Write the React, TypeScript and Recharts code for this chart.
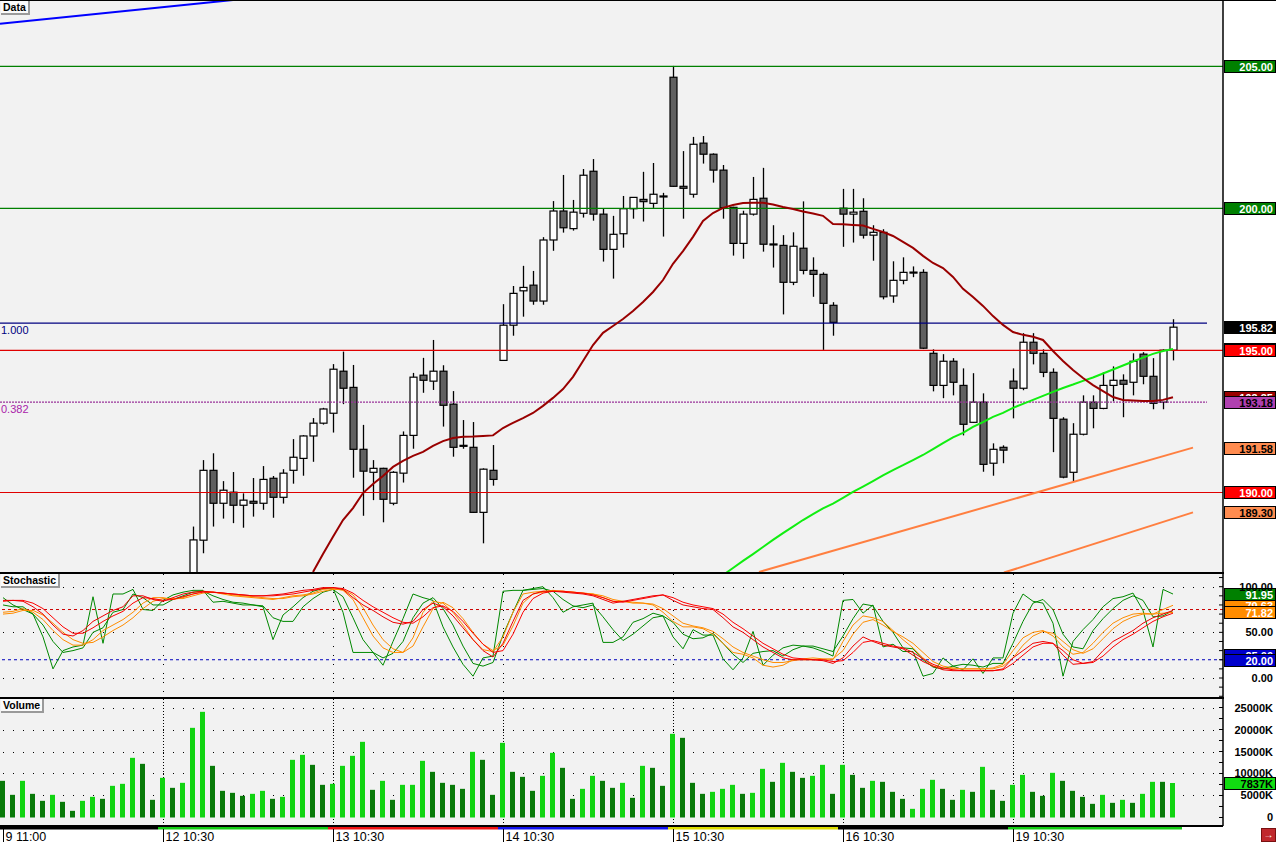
import React from "react";
import { ComposedChart, Bar, Line, XAxis, YAxis, CartesianGrid, ReferenceLine, Cell } from "recharts";

const FONT = "'Liberation Sans', Arial, sans-serif";

// ---- data ----
const DAY_LABELS = ["9 11:00", "12 10:30", "13 10:30", "14 10:30", "15 10:30", "16 10:30", "19 10:30"];
const DAY_START = [0, 16, 33, 50, 67, 84, 101];
const DAY_STRIP = ["#000000", "#11cc11", "#ee1111", "#1111ee", "#dddd00", "#000000", "#11cc11"];

const FIRST_CANDLE = 19;
const OPEN = [
  186.9, 188.32, 190.78, 189.62, 190.01, 189.55, 189.69, 189.62, 190.5, 189.83,
  190.78, 191.2, 191.99, 192.44, 192.79, 194.27, 193.7, 191.52, 190.71, 190.85,
  189.62, 190.68, 192.01, 194.13, 193.92, 194.27, 193.11, 191.66, 191.59, 189.3,
  190.78, 194.65, 195.89, 197.1, 197.3, 196.74, 198.89, 199.91, 199.29, 199.83,
  201.31, 199.8, 198.56, 199.11, 199.99, 200.32, 200.18, 200.44, 204.62, 200.78,
  200.5, 202.3, 201.91, 201.35, 200.04, 198.77, 199.8, 200.36, 198.75, 198.7,
  197.4, 198.6, 197.82, 197.68, 196.59, 200.01, 199.8, 199.9, 199.06, 199.16,
  196.92, 197.47, 197.76, 197.75, 194.9, 193.77, 194.62, 193.77, 192.47, 193.18,
  191.03, 191.59, 193.92, 193.67, 195.29, 194.9, 194.23, 192.58, 190.71, 192.05,
  193.18, 192.96, 193.77, 193.95, 193.88, 194.87, 194.09, 193.18, 195.01,
];
const HIGH = [
  188.8, 191.14, 191.38, 190.4, 190.72, 189.97, 190.51, 190.93, 190.58, 190.82,
  191.88, 192.02, 192.62, 192.98, 194.52, 194.96, 194.49, 192.38, 191.14, 190.87,
  190.75, 192.15, 194.21, 194.74, 195.37, 194.48, 193.57, 192.55, 192.48, 190.85,
  191.67, 196.63, 197.27, 197.98, 197.8, 198.99, 200.26, 201.18, 200.3, 201.39,
  201.74, 199.99, 199.74, 200.44, 200.4, 201.29, 201.6, 200.55, 205.02, 202.02,
  202.52, 202.55, 201.94, 201.53, 200.06, 199.92, 201.11, 201.43, 199.41, 199.06,
  199.16, 200.25, 198.28, 197.75, 196.7, 200.69, 200.69, 200.36, 199.41, 199.27,
  198.14, 198.28, 197.96, 197.86, 195.04, 194.87, 194.73, 194.37, 194.2, 193.49,
  191.73, 191.66, 194.37, 195.61, 195.61, 195.04, 194.37, 192.65, 192.44, 193.42,
  193.42, 194.23, 194.44, 194.16, 194.9, 194.94, 194.73, 195.04, 196.1,
];
const LOW = [
  186.6, 187.86, 188.8, 189.08, 188.92, 188.76, 189.15, 189.39, 189.11, 189.61,
  190.31, 190.59, 191.08, 192.39, 192.11, 193.11, 190.52, 189.18, 189.73, 188.95,
  189.55, 190.35, 191.54, 193.51, 193.61, 192.32, 191.26, 191.54, 189.28, 188.21,
  190.24, 194.63, 195.52, 196.19, 196.61, 196.61, 198.51, 199.15, 199.22, 199.68,
  199.57, 198.13, 197.53, 198.62, 199.64, 199.54, 200.02, 199.01, 200.76, 199.64,
  200.38, 201.58, 200.91, 199.64, 198.34, 198.23, 199.75, 198.48, 197.92, 196.27,
  197.3, 197.68, 196.89, 195.02, 195.52, 198.65, 198.8, 198.94, 198.16, 196.8,
  196.68, 197.33, 197.58, 195.05, 193.56, 193.32, 193.42, 192.01, 192.45, 190.73,
  190.59, 191.03, 192.61, 193.6, 194.51, 194.06, 191.42, 190.5, 190.39, 192.01,
  192.26, 192.93, 193.21, 192.65, 193.42, 193.81, 192.93, 192.93, 194.65,
];
const CLOSE = [
  188.33, 190.78, 189.62, 190.08, 189.55, 189.73, 189.62, 190.46, 189.83, 190.68,
  191.24, 191.99, 192.44, 192.94, 194.34, 193.67, 191.52, 190.75, 190.85, 189.76,
  190.71, 192.01, 194.06, 193.95, 194.27, 193.07, 191.59, 191.64, 189.3, 190.82,
  190.46, 195.89, 197.01, 197.22, 196.74, 198.89, 199.91, 199.32, 199.87, 201.17,
  199.8, 198.56, 199.09, 199.99, 200.39, 200.24, 200.5, 200.42, 200.78, 200.71,
  202.26, 201.91, 201.35, 200.03, 198.77, 199.8, 200.32, 198.74, 198.73, 197.4,
  198.67, 197.82, 197.68, 196.66, 195.99, 199.8, 199.87, 199.06, 199.16, 196.89,
  197.47, 197.75, 197.74, 195.08, 193.77, 194.62, 193.88, 192.4, 193.18, 190.99,
  191.52, 191.49, 193.67, 195.29, 194.9, 194.23, 192.61, 190.54, 192.05, 193.18,
  192.96, 193.77, 193.95, 193.81, 194.62, 194.09, 193.14, 195.01, 195.82,
];

const MA_RED_START = 31;
const MA_RED = [
  187.2, 187.83, 188.44, 189.03, 189.45, 189.98, 190.3, 190.58, 190.9, 191.11,
  191.29, 191.43, 191.64, 191.81, 191.92, 191.96, 191.97, 191.99, 192.01, 192.27,
  192.45, 192.62, 192.8, 193.05, 193.33, 193.64, 194.07, 194.63, 195.19, 195.62,
  195.86, 196.11, 196.39, 196.71, 197.06, 197.48, 198.05, 198.5, 199.0, 199.56,
  199.84, 200.02, 200.12, 200.19, 200.2, 200.2, 200.14, 200.05, 199.98, 199.89,
  199.82, 199.74, 199.45, 199.44, 199.42, 199.4, 199.28, 199.17, 199.03, 198.82,
  198.61, 198.33, 198.08, 197.9, 197.59, 197.17, 196.88, 196.57, 196.21, 195.9,
  195.65, 195.55, 195.48, 195.37, 194.98, 194.63, 194.31, 194.03, 193.78, 193.57,
  193.36, 193.26, 193.24, 193.22, 193.22, 193.26, 193.35,
];
const MA_GREEN_START = 72;
const MA_GREEN = [
  187.09, 187.34, 187.59, 187.83, 188.08, 188.33, 188.57, 188.8, 189.03, 189.24,
  189.44, 189.61, 189.81, 190.02, 190.21, 190.4, 190.6, 190.79, 190.96, 191.14,
  191.32, 191.53, 191.74, 191.94, 192.1, 192.31, 192.48, 192.66, 192.8, 192.98,
  193.12, 193.26, 193.4, 193.54, 193.68, 193.8, 193.93, 194.05, 194.19, 194.33,
  194.47, 194.61, 194.75, 194.88, 194.98, 195.05,
];

const LEVELS_GREEN = [205, 200];
const LEVELS_RED = [195, 190];
const FIB_100 = 195.96;
const FIB_382 = 193.18;
const FIB_END_X = 120.4;
const BLUE_TREND = [{ x: -0.3, y: 206.5 }, { x: 23.0, y: 207.34 }];
const ORANGE_UPPER = [{ x: 75.6, y: 187.2 }, { x: 119.0, y: 191.58 }];
const ORANGE_LOWER = [{ x: 100.1, y: 187.18 }, { x: 119.0, y: 189.3 }];

const STO_FAST = [
  88, 80, 75, 70, 45, 10, 30, 34, 36, 89, 38, 92, 92, 97, 75, 74, 85, 91, 94, 96,
  96, 83, 84, 82, 80, 80, 78, 42, 69, 78, 88, 95, 98, 98, 72, 28, 28, 28, 14, 40,
  65, 92, 88, 85, 56, 34, 15, 2, 22, 24, 95, 96, 96, 98, 100, 88, 72, 78, 80, 82,
  39, 39, 45, 61, 65, 71, 68, 45, 32, 53, 47, 47, 21, 9, 22, 51, 14, 25, 33, 36,
  35, 33, 29, 24, 85, 86, 71, 80, 34, 37, 29, 29, 2, 5, 22, 13, 9, 21, 5, 22,
  22, 71, 92, 84, 82, 60, 2, 40, 53, 64, 78, 87, 89, 93, 74, 34, 97, 91.95,
];
const STO_GREEN = [
  80, 78, 78, 70, 58, 40, 28, 30, 33, 50, 55, 72, 75, 92, 88, 80, 80, 86, 90, 94,
  95, 90, 86, 83, 82, 80, 79, 66, 62, 62, 78, 87, 94, 97, 89, 66, 42, 28, 22, 27,
  40, 66, 82, 88, 76, 58, 35, 16, 13, 17, 47, 72, 96, 97, 98, 95, 86, 79, 77, 80,
  67, 53, 41, 48, 57, 66, 68, 61, 48, 43, 44, 49, 38, 26, 17, 27, 29, 30, 24, 31,
  35, 35, 32, 29, 46, 65, 81, 79, 62, 50, 33, 32, 20, 12, 10, 13, 15, 14, 12, 16,
  16, 38, 62, 82, 86, 75, 48, 34, 32, 52, 65, 76, 85, 90, 85, 67, 68, 74,
];
const STO_ORANGE1 = [
  72, 73, 76, 72, 64, 52, 42, 36, 36, 42, 52, 58, 64, 72, 82, 88, 88, 86, 88, 92,
  95, 94, 92, 90, 89, 88, 87, 86, 88, 90, 91, 93, 97, 98, 96, 86, 66, 46, 33, 28,
  28, 44, 72, 84, 82, 72, 58, 42, 31, 29, 45, 72, 92, 94, 95, 96, 95, 94, 93, 92,
  88, 84, 84, 82, 82, 80, 72, 62, 56, 56, 54, 48, 38, 28, 26, 22, 14, 12, 14, 20,
  20, 20, 20, 20, 40, 58, 68, 66, 62, 52, 42, 33, 22, 13, 11, 10, 10, 10, 10, 11,
  15, 30, 44, 50, 52, 46, 34, 26, 28, 38, 50, 60, 66, 70, 71, 70, 75, 79.63,
];
const STO_ORANGE2 = [
  70, 71, 74, 74, 69, 60, 50, 42, 38, 39, 45, 52, 58, 66, 76, 84, 87, 87, 87, 90,
  93, 94, 93, 91, 90, 89, 88, 87, 87, 89, 90, 92, 95, 97, 97, 91, 77, 58, 42, 32,
  28, 35, 56, 76, 83, 77, 65, 50, 37, 30, 36, 57, 82, 92, 94, 95, 95, 94, 93, 92,
  90, 86, 84, 83, 82, 81, 76, 68, 60, 57, 55, 51, 43, 34, 28, 24, 20, 17, 17, 19,
  21, 22, 21, 21, 30, 48, 61, 64, 58, 51, 45, 38, 28, 18, 13, 11, 10, 10, 10, 10,
  13, 22, 36, 46, 51, 49, 40, 31, 27, 32, 43, 54, 62, 67, 70, 70, 71, 71.82,
];
const STO_RED1 = [
  85, 85, 84, 78, 70, 58, 48, 46, 52, 62, 68, 74, 78, 90, 90, 86, 84, 88, 92, 94,
  95, 94, 93, 92, 91, 90, 90, 91, 92, 94, 96, 97, 99, 99, 97, 88, 80, 74, 67, 61,
  59, 62, 75, 82, 78, 68, 55, 42, 30, 23, 38, 62, 85, 92, 95, 95, 94, 93, 92, 90,
  86, 82, 84, 86, 88, 90, 91, 85, 80, 78, 76, 75, 66, 56, 50, 42, 34, 28, 22, 20,
  20, 20, 19, 16, 22, 35, 45, 40, 36, 34, 32, 25, 18, 13, 9, 8, 8, 8, 8, 8,
  10, 22, 30, 38, 40, 38, 25, 15, 16, 18, 30, 40, 46, 52, 60, 66, 70, 74,
];
const STO_RED2 = [
  84, 85, 85, 82, 76, 66, 56, 49, 49, 55, 62, 68, 73, 82, 88, 87, 85, 86, 89, 92,
  94, 94, 93, 92, 91, 90, 90, 90, 91, 92, 94, 96, 98, 99, 98, 93, 85, 78, 72, 66,
  61, 60, 67, 77, 79, 73, 62, 49, 37, 28, 30, 48, 72, 87, 93, 95, 95, 94, 93, 91,
  88, 84, 83, 85, 87, 89, 91, 88, 83, 80, 78, 76, 70, 61, 54, 46, 38, 32, 26, 22,
  21, 20, 20, 18, 19, 28, 39, 41, 38, 35, 33, 28, 21, 15, 11, 9, 8, 8, 8, 8,
  9, 16, 25, 34, 38, 38, 30, 20, 16, 17, 24, 34, 42, 48, 55, 62, 67, 71,
];
const STO_HIGH_LEVEL = 75;
const STO_LOW_LEVEL = 20;

const VOLUME = [
  8333, 5152, 8333, 5379, 3788, 5152, 3561, 1515, 3788, 4697,
  4242, 7197, 7652, 13561, 12197, 4015, 9015, 6742, 7879, 20379,
  24015, 11742, 6061, 5606, 4924, 5379, 6061, 4242, 4697, 13106,
  14242, 11970, 7424, 7652, 11742, 14015, 17197, 6288, 8333, 4015,
  7424, 7424, 12879, 10379, 7879, 7424, 6515, 14924, 13106, 5152,
  16970, 10379, 9242, 6061, 9470, 14697, 11288, 4242, 6515, 9470,
  8333, 6742, 7879, 4470, 11742, 11288, 7197, 19015, 18106, 7879,
  5379, 5833, 6515, 7424, 5379, 5606, 11061, 8106, 12424, 10379,
  9015, 9470, 11970, 5379, 11970, 9697, 6742, 8333, 8106, 5833,
  4242, 1970, 6515, 8561, 6515, 4015, 6288, 5833, 11515, 6288,
  3788, 7424, 9697, 5833, 4924, 10152, 8333, 6061, 4697, 3106,
  5152, 3333, 4015, 3333, 5379, 8106, 8106, 7837,
];
const VOLUME_UP = [
  0, 0, 1, 0, 0, 1, 0, 0, 1, 1, 0, 1, 1, 1, 0, 0, 1, 0, 1, 1,
  1, 0, 0, 0, 0, 1, 1, 0, 1, 1, 1, 0, 0, 1, 1, 1, 1, 0, 1, 0,
  1, 1, 1, 0, 0, 0, 0, 1, 0, 0, 1, 0, 0, 0, 1, 1, 0, 0, 1, 1,
  0, 0, 1, 0, 1, 0, 0, 1, 0, 0, 0, 1, 1, 1, 0, 1, 1, 0, 1, 0,
  0, 1, 1, 0, 1, 0, 0, 1, 0, 0, 0, 1, 1, 1, 0, 0, 1, 0, 1, 0,
  0, 1, 1, 0, 0, 1, 0, 0, 0, 0, 1, 0, 1, 0, 1, 1, 0, 1,
];

const PRICE_TICKS = [188, 189, 190, 191, 192, 193, 194, 195, 196, 197, 198, 199, 200, 201, 202, 203, 204, 205, 206, 207];
const STOCH_TICKS = [-20, -10, 0, 10, 20, 30, 40, 50, 60, 70, 80, 90, 100, 110];
const STOCH_LABELED = [0, 50, 100];
const VOL_TICKS = [0, 2500, 5000, 7500, 10000, 12500, 15000, 17500, 20000, 22500, 25000];
const VOL_GRID = [5000, 10000, 15000, 20000, 25000];

// ---- layout ----
const CHART_W = 1276;
const AXIS_W = 53;
const PLOT_W = CHART_W - AXIS_W;
const X_MIN = -0.3;
const X_MAX = 122.0;
const BAR_PX = PLOT_W / (X_MAX - X_MIN);
const toPx = (i: number) => (i - X_MIN) * BAR_PX;
const PRICE_H = 572;
const STOCH_TOP = 574;
const STOCH_H = 123;
const VOL_TOP = 699;
const VOL_H = 143;
const PRICE_DOMAIN = [187.2, 207.34];
const STOCH_DOMAIN = [-20.8, 113.9];
const VOL_DOMAIN = [-1932, 26932];
const MARGIN = { top: 0, right: 0, bottom: 0, left: 0 };

const rows = VOLUME.map((v, i) => {
  const k = i - FIRST_CANDLE;
  const hasCandle = k >= 0 && k < OPEN.length;
  return {
    i,
    o: hasCandle ? OPEN[k] : null,
    h: hasCandle ? HIGH[k] : null,
    l: hasCandle ? LOW[k] : null,
    c: hasCandle ? CLOSE[k] : null,
    maRed: i >= MA_RED_START ? MA_RED[i - MA_RED_START] : null,
    maGreen: i >= MA_GREEN_START ? MA_GREEN[i - MA_GREEN_START] : null,
    vol: v,
    up: VOLUME_UP[i],
    kFast: STO_FAST[i],
    kGreen: STO_GREEN[i],
    o1: STO_ORANGE1[i],
    o2: STO_ORANGE2[i],
    r1: STO_RED1[i],
    r2: STO_RED2[i],
  };
});
const last = rows[rows.length - 1];

function Candle(props: any) {
  const { x, y, width, height, payload } = props;
  if (!payload || payload.o == null || !isFinite(y) || !isFinite(height)) return null;
  const { o, h, l, c } = payload;
  const perUnit = height / (h - l);
  const mid = Math.round(x + width / 2) + 0.5;
  const yTop = y + (h - Math.max(o, c)) * perUnit;
  const yBot = y + (h - Math.min(o, c)) * perUnit;
  return (
    <g>
      <line x1={mid} x2={mid} y1={y} y2={y + height} stroke="#000" strokeWidth={1.3} />
      <rect x={mid - 3.5} y={yTop} width={7} height={Math.max(1, yBot - yTop)} fill={c >= o ? "#ffffff" : "#606060"} stroke="#000" strokeWidth={1.2} />
    </g>
  );
}

function tag(text: string, fill: string, color: string) {
  return (props: any) => {
    const y = Math.round(props.viewBox ? props.viewBox.y : 0);
    return (
      <g>
        <rect x={PLOT_W + 1.5} y={y - 5.5} width={51} height={12} fill={fill} stroke="#000" strokeWidth={1} />
        <text x={PLOT_W + 50} y={y + 4.5} textAnchor="end" fill={color} fontFamily={FONT} fontSize={11} fontWeight="bold">{text}</text>
      </g>
    );
  };
}

function leftText(text: string, color: string) {
  return (props: any) => {
    const y = props.viewBox ? props.viewBox.y : 0;
    return (
      <text x={1} y={y + 11} fill={color} fontFamily={FONT} fontSize={11}>{text}</text>
    );
  };
}

const dotRow = (dash: string, offset: number) => (p: any) => (
  <line key={p.key ?? `h${p.y1}`} x1={p.x1} x2={p.x2} y1={Math.round(p.y1) + 0.5} y2={Math.round(p.y2) + 0.5} stroke="#000" strokeWidth={1} strokeDasharray={dash} strokeDashoffset={offset} />
);
const dotCol = (dash: string) => (p: any) => (
  <line key={p.key ?? `v${p.x1}`} x1={Math.round(p.x1) + 0.5} x2={Math.round(p.x2) + 0.5} y1={p.y1} y2={p.y2} stroke="#000" strokeWidth={1} strokeDasharray={dash} />
);

const axisLabel = (labeled: (v: number) => string | null) => (props: any) => {
  const { y, payload } = props;
  const text = labeled(payload.value);
  if (text == null) return <g />;
  return (
    <text x={PLOT_W + 50} y={y + 4} textAnchor="end" fill="#000" fontFamily={FONT} fontSize={11} fontWeight="bold">{text}</text>
  );
};

function DayTick(props: any) {
  const { x, y, payload } = props;
  const idx = DAY_START.indexOf(payload.value);
  if (idx < 0) return <g />;
  const x0 = idx === 0 ? 0 : toPx(DAY_START[idx] - 0.5);
  const x1 = idx + 1 < DAY_START.length ? toPx(DAY_START[idx + 1] - 0.5) : toPx(rows.length - 0.1);
  return (
    <g>
      <rect x={x0} y={y + 1} width={x1 - x0} height={2.5} fill={DAY_STRIP[idx]} />
      <line x1={Math.round(x) + 0.5} x2={Math.round(x) + 0.5} y1={y + 3} y2={y + 17} stroke="#000" />
      <text x={x + 2.5} y={y + 14.5} fill="#000" fontFamily={FONT} fontSize={12.5}>{DAY_LABELS[idx]}</text>
    </g>
  );
}

function PricePanel() {
  return (
    <ComposedChart width={CHART_W} height={PRICE_H} data={rows} margin={MARGIN}>
      <CartesianGrid fill="#f2f2f2" vertical={false} horizontal={dotRow("1 169", 7)} />
      <XAxis type="number" dataKey="i" domain={[X_MIN, X_MAX]} ticks={DAY_START} hide allowDataOverflow />
      <YAxis orientation="right" width={AXIS_W} domain={PRICE_DOMAIN} allowDataOverflow ticks={PRICE_TICKS} interval={0} tick={false} tickSize={-4} tickLine={{ stroke: "#000" }} axisLine={{ stroke: "#000", strokeWidth: 1.5 }} />
      <YAxis yAxisId="l" orientation="left" width={0} mirror domain={PRICE_DOMAIN} allowDataOverflow ticks={PRICE_TICKS} interval={0} tick={false} tickSize={3} tickLine={{ stroke: "#000" }} axisLine={{ stroke: "#000", strokeWidth: 2 }} />

      {LEVELS_GREEN.map((v) => (
        <ReferenceLine key={`g${v}`} y={v} stroke="#008000" strokeWidth={1.2} label={tag(v.toFixed(2), "#008000", "#ffffff")} />
      ))}
      <ReferenceLine segment={[{ x: X_MIN, y: FIB_100 }, { x: FIB_END_X, y: FIB_100 }]} stroke="#000080" strokeWidth={1.2} label={leftText("1.000", "#000080")} />
      <ReferenceLine segment={[{ x: X_MIN, y: FIB_382 }, { x: FIB_END_X, y: FIB_382 }]} stroke="#993399" strokeWidth={1.2} strokeDasharray="2 1" label={leftText("0.382", "#aa22aa")} />
      <ReferenceLine y={LEVELS_RED[0]} stroke="#e00000" strokeWidth={1.2} />
      <ReferenceLine y={LEVELS_RED[1]} stroke="#e00000" strokeWidth={1.2} />
      <ReferenceLine segment={BLUE_TREND} stroke="#0000ff" strokeWidth={2} ifOverflow="hidden" />
      <ReferenceLine segment={ORANGE_UPPER} stroke="#ff7f40" strokeWidth={2} ifOverflow="hidden" />
      <ReferenceLine segment={ORANGE_LOWER} stroke="#ff7f40" strokeWidth={2} ifOverflow="hidden" />

      <Line dataKey="maGreen" stroke="#11ee11" strokeWidth={2} dot={false} activeDot={false} isAnimationActive={false} />
      <Line dataKey="maRed" stroke="#990000" strokeWidth={2} dot={false} activeDot={false} isAnimationActive={false} />
      <Bar dataKey={(d: any) => (d.o == null ? null : [d.l, d.h])} barSize={7} shape={Candle} isAnimationActive={false} />

      {/* axis tags, later ones cover earlier ones as in the original */}
      <ReferenceLine y={last.maGreen as number} stroke="none" label={tag(String(last.maGreen), "#11ee11", "#000")} />
      <ReferenceLine y={LEVELS_RED[0]} stroke="none" label={tag(LEVELS_RED[0].toFixed(2), "#ff0000", "#ffffff")} />
      <ReferenceLine y={last.c as number} stroke="none" label={tag((last.c as number).toFixed(2), "#000000", "#ffffff")} />
      <ReferenceLine y={last.maRed as number} stroke="none" label={tag((last.maRed as number).toFixed(2), "#990000", "#ffffff")} />
      <ReferenceLine y={FIB_382} stroke="none" label={tag(FIB_382.toFixed(2), "#b040b0", "#000")} />
      <ReferenceLine y={ORANGE_UPPER[1].y} stroke="none" label={tag(ORANGE_UPPER[1].y.toFixed(2), "#ff8c50", "#000")} />
      <ReferenceLine y={LEVELS_RED[1]} stroke="none" label={tag(LEVELS_RED[1].toFixed(2), "#ff0000", "#ffffff")} />
      <ReferenceLine y={ORANGE_LOWER[1].y} stroke="none" label={tag(ORANGE_LOWER[1].y.toFixed(2), "#ff8c50", "#000")} />
    </ComposedChart>
  );
}

function StochPanel() {
  return (
    <ComposedChart width={CHART_W} height={STOCH_H} data={rows} margin={MARGIN}>
      <CartesianGrid fill="#f2f2f2" horizontalValues={STOCH_LABELED} verticalValues={DAY_START.slice(1)} horizontal={dotRow("1 9", 7)} vertical={dotCol("1 8")} />
      <XAxis type="number" dataKey="i" domain={[X_MIN, X_MAX]} ticks={DAY_START} hide allowDataOverflow />
      <YAxis orientation="right" width={AXIS_W} domain={STOCH_DOMAIN} allowDataOverflow ticks={STOCH_TICKS} interval={0} tick={axisLabel((v) => (STOCH_LABELED.includes(v) ? v.toFixed(2) : null))} tickSize={-4} tickLine={{ stroke: "#000" }} axisLine={{ stroke: "#000", strokeWidth: 1.5 }} />
      <YAxis yAxisId="l" orientation="left" width={0} mirror domain={STOCH_DOMAIN} allowDataOverflow ticks={STOCH_TICKS} interval={0} tick={false} tickSize={3} tickLine={{ stroke: "#000" }} axisLine={{ stroke: "#000", strokeWidth: 2 }} />
      <ReferenceLine y={STO_HIGH_LEVEL} stroke="#cc0000" strokeDasharray="3 3" />
      <ReferenceLine y={STO_LOW_LEVEL} stroke="#0000bb" strokeDasharray="3 3" />
      <Line dataKey="kFast" stroke="#008800" strokeWidth={1} dot={false} activeDot={false} isAnimationActive={false} />
      <Line dataKey="kGreen" stroke="#008800" strokeWidth={1} dot={false} activeDot={false} isAnimationActive={false} />
      <Line dataKey="o2" stroke="#ff8c00" strokeWidth={1} dot={false} activeDot={false} isAnimationActive={false} />
      <Line dataKey="o1" stroke="#ff8c00" strokeWidth={1} dot={false} activeDot={false} isAnimationActive={false} />
      <Line dataKey="r2" stroke="#ff0000" strokeWidth={1} dot={false} activeDot={false} isAnimationActive={false} />
      <Line dataKey="r1" stroke="#ee0000" strokeWidth={1} dot={false} activeDot={false} isAnimationActive={false} />
      <ReferenceLine y={last.o1} stroke="none" label={tag(last.o1.toFixed(2), "#ff8c00", "#ffffff")} />
      <ReferenceLine y={last.kFast} stroke="none" label={tag(last.kFast.toFixed(2), "#008000", "#ffffff")} />
      <ReferenceLine y={last.o2} stroke="none" label={tag(last.o2.toFixed(2), "#ff8c00", "#ffffff")} />
      <ReferenceLine y={25} stroke="none" label={tag("25.00", "#0000cc", "#ffffff")} />
      <ReferenceLine y={STO_LOW_LEVEL} stroke="none" label={tag(STO_LOW_LEVEL.toFixed(2), "#0000cc", "#ffffff")} />
    </ComposedChart>
  );
}

function VolumePanel() {
  return (
    <ComposedChart width={CHART_W} height={VOL_H} data={rows} margin={MARGIN}>
      <CartesianGrid fill="#f2f2f2" horizontalValues={VOL_GRID} verticalValues={DAY_START.slice(1)} horizontal={dotRow("1 9", 7)} vertical={dotCol("1 2")} />
      <XAxis type="number" dataKey="i" domain={[X_MIN, X_MAX]} ticks={DAY_START} interval={0} allowDataOverflow height={16} tickLine={false} tickSize={0} tickMargin={0} tick={DayTick} axisLine={{ stroke: "#000", strokeWidth: 2 }} />
      <YAxis orientation="right" width={AXIS_W} domain={VOL_DOMAIN} allowDataOverflow ticks={VOL_TICKS} interval={0} tick={axisLabel((v) => (v % 5000 === 0 ? (v === 0 ? "0" : `${v}K`) : null))} tickSize={-4} tickLine={{ stroke: "#000" }} axisLine={{ stroke: "#000", strokeWidth: 1.5 }} />
      <YAxis yAxisId="l" orientation="left" width={0} mirror domain={VOL_DOMAIN} allowDataOverflow ticks={VOL_TICKS} interval={0} tick={false} tickSize={3} tickLine={{ stroke: "#000" }} axisLine={{ stroke: "#000", strokeWidth: 2 }} />
      <Bar dataKey="vol" barSize={5} isAnimationActive={false}>
        {rows.map((r) => (
          <Cell key={r.i} fill={r.up ? "#11d411" : "#087a08"} />
        ))}
      </Bar>
      <ReferenceLine y={last.vol} stroke="none" label={tag(`${last.vol}K`, "#11dd11", "#000")} />
    </ComposedChart>
  );
}

function PanelTitle({ text, top }: { text: string; top: number }) {
  return (
    <div style={{ position: "absolute", left: 1, top, padding: "0 2px", background: "#fafafa", borderRight: "2px solid #9a9a9a", borderBottom: "2px solid #9a9a9a", fontFamily: FONT, fontWeight: "bold", fontSize: 10.5, lineHeight: "12px", color: "#000" }}>
      {text}
    </div>
  );
}

export default function App() {
  return (
    <div style={{ position: "fixed", left: 0, top: 0, width: CHART_W, height: 842, background: "#fff", overflow: "hidden", fontFamily: FONT }}>
      <div style={{ position: "absolute", left: 0, top: 0 }}>
        <PricePanel />
      </div>
      <div style={{ position: "absolute", left: 0, top: STOCH_TOP }}>
        <StochPanel />
      </div>
      <div style={{ position: "absolute", left: 0, top: VOL_TOP }}>
        <VolumePanel />
      </div>
      <div style={{ position: "absolute", left: 0, top: 0, width: CHART_W, height: 1, background: "#000" }} />
      <div style={{ position: "absolute", left: 0, top: PRICE_H, width: PLOT_W + 1, height: 2, background: "#000" }} />
      <div style={{ position: "absolute", left: 0, top: STOCH_TOP + STOCH_H, width: PLOT_W + 1, height: 2, background: "#000" }} />
      <PanelTitle text="Data" top={1} />
      <PanelTitle text="Stochastic" top={STOCH_TOP} />
      <PanelTitle text="Volume" top={VOL_TOP} />
      <div style={{ position: "absolute", left: 1261, top: 828, width: 13, height: 12, background: "#c0282d", border: "1px solid #7a1010", color: "#fff", fontSize: 10, lineHeight: "12px", textAlign: "center", fontWeight: "bold" }}>
        →
      </div>
    </div>
  );
}
